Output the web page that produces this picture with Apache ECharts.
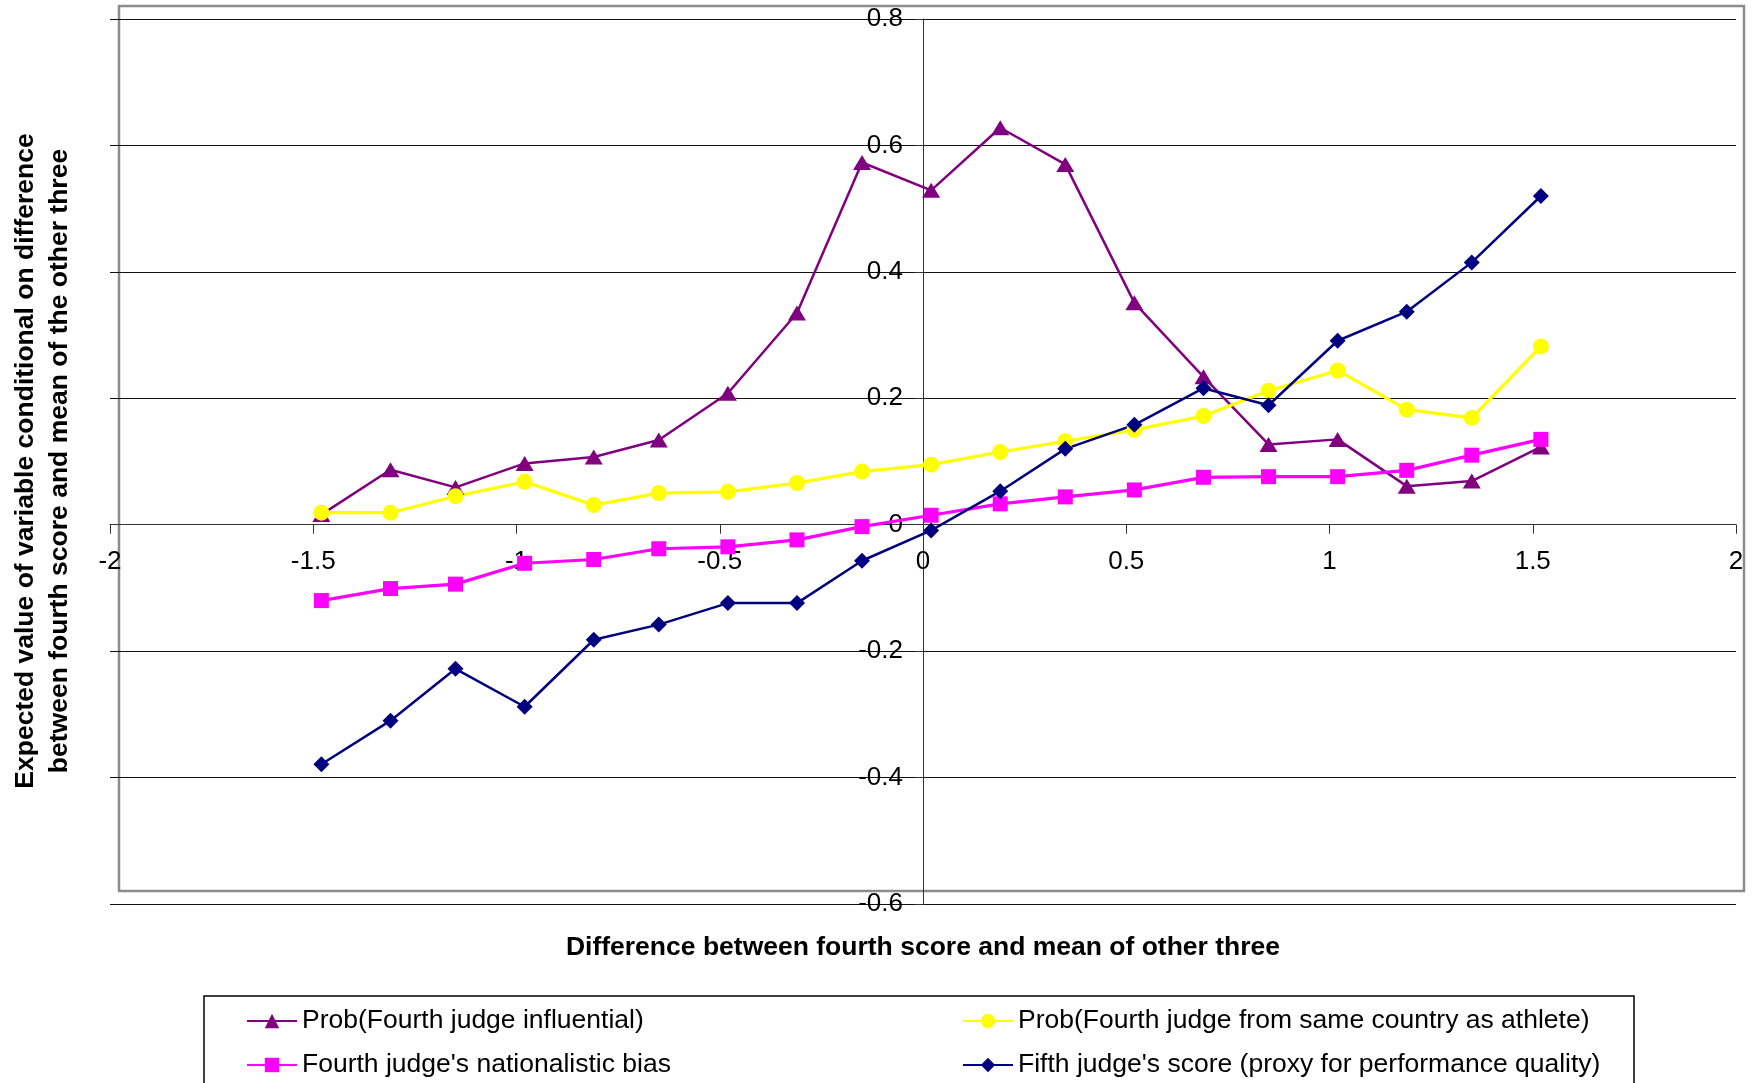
<!DOCTYPE html>
<html>
<head>
<meta charset="utf-8">
<script src="https://cdn.jsdelivr.net/npm/echarts@6/dist/echarts.min.js"></script>
<style>
html,body{margin:0;padding:0;background:#fff;}
#chart{width:1754px;height:1083px;}
</style>
</head>
<body>
<div id="chart"></div>
<script>
// ---- data ----
var xValues = [-1.48, -1.31, -1.15, -0.98, -0.81, -0.65, -0.48, -0.31, -0.15, 0.02, 0.19, 0.35, 0.52, 0.69, 0.85, 1.02, 1.19, 1.35, 1.52];
var probInfluential = [0.016, 0.087, 0.059, 0.097, 0.107, 0.134, 0.208, 0.335, 0.573, 0.529, 0.628, 0.570, 0.351, 0.234, 0.127, 0.135, 0.061, 0.069, 0.123];
var probSameCountry = [0.019, 0.019, 0.045, 0.068, 0.031, 0.050, 0.052, 0.066, 0.084, 0.095, 0.115, 0.132, 0.150, 0.172, 0.212, 0.244, 0.182, 0.169, 0.282];
var nationalisticBias = [-0.120, -0.101, -0.094, -0.061, -0.055, -0.038, -0.035, -0.024, -0.003, 0.015, 0.033, 0.044, 0.055, 0.075, 0.076, 0.076, 0.086, 0.110, 0.135];
var fifthJudgeScore = [-0.379, -0.310, -0.228, -0.288, -0.182, -0.158, -0.124, -0.124, -0.057, -0.009, 0.053, 0.120, 0.158, 0.216, 0.189, 0.291, 0.337, 0.415, 0.520];

var seriesNames = [
  "Prob(Fourth judge influential)",
  "Prob(Fourth judge from same country as athlete)",
  "Fourth judge's nationalistic bias",
  "Fifth judge's score (proxy for performance quality)"
];
var xTickLabels = [-2, -1.5, -1, -0.5, 0, 0.5, 1, 1.5, 2];
var yTickLabels = [-0.6, -0.4, -0.2, 0, 0.2, 0.4, 0.6, 0.8];
var xAxisTitle = "Difference between fourth score and mean of other three";
var yAxisTitle = "Expected value of variable conditional on difference\nbetween fourth score and mean of the other three";

function pairs(ys) { return xValues.map(function (x, i) { return [x, ys[i]]; }); }

var FONT = "'Liberation Sans', Arial, Helvetica, sans-serif";
var W = 1754, H = 1083;
var G = {left: 110, right: 18, top: 19, bottom: 179};
var gridW = W - G.left - G.right, gridH = H - G.top - G.bottom;
var xMin = xTickLabels[0], xMax = xTickLabels[xTickLabels.length - 1];
var yMin = yTickLabels[0], yMax = yTickLabels[yTickLabels.length - 1];
// axes cross at zero: shift each axis line from the grid edge to the other axis's zero
var yAxisShift = -gridW * (0 - xMin) / (xMax - xMin);
var xAxisShift = -gridH * (0 - yMin) / (yMax - yMin);

var chart = echarts.init(document.getElementById('chart'), null, {renderer: 'canvas'});

function lineSeries(name, ys, color, symbol, size, lw) {
  return {
    name: name, type: 'line', data: pairs(ys),
    symbol: symbol, symbolSize: size, showAllSymbol: true,
    lineStyle: {color: color, width: lw},
    itemStyle: {color: color, borderWidth: 0},
    emphasis: {disabled: true},
    animation: false
  };
}

var legendCommon = {
  orient: 'vertical', top: 1006, padding: 0,
  itemWidth: 50, itemHeight: 18, itemGap: 14,
  textStyle: {fontSize: 26.5, fontFamily: FONT, color: '#000', lineHeight: 30},
  selectedMode: false
};

var option = {
  animation: false,
  backgroundColor: '#fff',
  grid: {left: G.left, right: G.right, top: G.top, bottom: G.bottom, outerBoundsMode: 'none'},
  xAxis: {
    type: 'value', position: 'bottom', offset: xAxisShift,
    min: xMin, max: xMax, interval: 0.5,
    axisLine: {show: true, onZero: false, lineStyle: {color: '#333', width: 1}},
    axisTick: {show: true, length: 9, lineStyle: {color: '#333', width: 1}},
    axisLabel: {show: true, fontSize: 26, fontFamily: FONT, color: '#000', margin: 24,
      showMinLabel: true, showMaxLabel: true},
    splitLine: {show: false}
  },
  yAxis: {
    type: 'value', position: 'left', offset: yAxisShift,
    min: yMin, max: yMax, interval: 0.2,
    axisLine: {show: true, onZero: false, lineStyle: {color: '#333', width: 1}},
    axisTick: {show: true, length: 8, lineStyle: {color: '#333', width: 1}},
    axisLabel: {show: true, fontSize: 26, fontFamily: FONT, color: '#000', margin: 20,
      showMinLabel: true, showMaxLabel: true},
    splitLine: {show: true, lineStyle: {color: '#111', width: 1.2}}
  },
  legend: [
    Object.assign({}, legendCommon, {left: 246, data: [seriesNames[0], seriesNames[2]]}),
    Object.assign({}, legendCommon, {left: 962, data: [seriesNames[1], seriesNames[3]]})
  ],
  graphic: [
    {type: 'rect', z: -10, silent: true,
      shape: {x: 119, y: 6, width: 1625, height: 885},
      style: {fill: 'none', stroke: '#8c8c8c', lineWidth: 2.5}},
    {type: 'rect', z: -10, silent: true,
      shape: {x: 204, y: 996, width: 1430, height: 140},
      style: {fill: 'none', stroke: '#000', lineWidth: 1.5}},
    {type: 'text', silent: true, x: 923, y: 948,
      style: {text: xAxisTitle, font: 'bold 26.5px ' + FONT, fill: '#000', align: 'center', verticalAlign: 'middle'}},
    {type: 'text', silent: true, x: 43, y: 461, rotation: Math.PI / 2,
      style: {text: yAxisTitle, font: 'bold 26.5px ' + FONT, fill: '#000', align: 'center', verticalAlign: 'middle', lineHeight: 34}}
  ],
  series: [
    lineSeries(seriesNames[0], probInfluential, '#800080', 'triangle', [18, 15], 2.5),
    lineSeries(seriesNames[1], probSameCountry, '#FFFF00', 'circle', 16, 3.2),
    lineSeries(seriesNames[2], nationalisticBias, '#FF00FF', 'rect', 15, 3.2),
    lineSeries(seriesNames[3], fifthJudgeScore, '#000080', 'diamond', 16, 2.5)
  ]
};
chart.setOption(option);
</script>
</body>
</html>
